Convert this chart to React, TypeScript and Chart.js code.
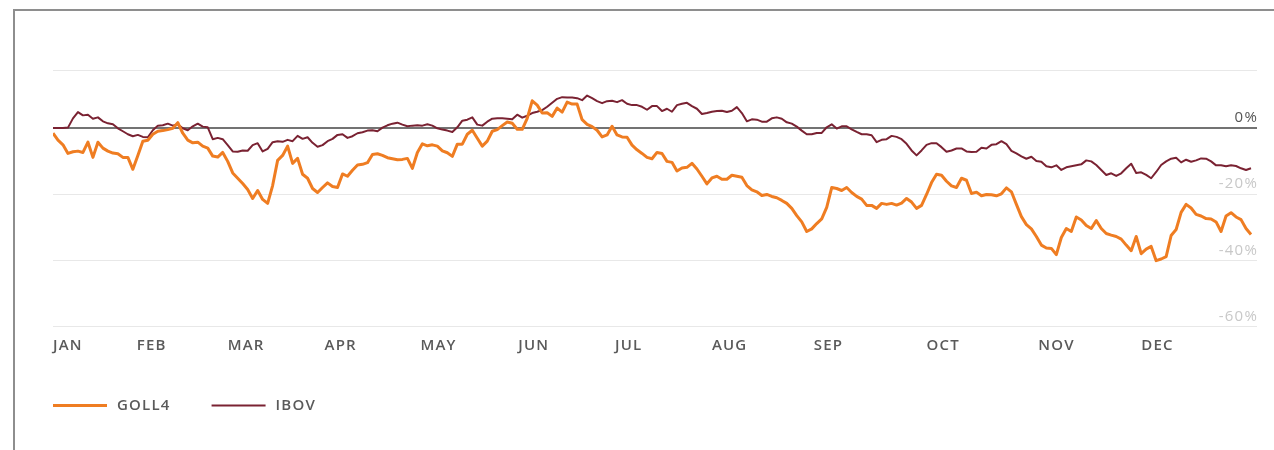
import React, { useEffect, useRef } from 'react';
import { Chart, registerables } from 'chart.js';

Chart.register(...registerables);

const monthLabels = ['JAN', 'FEB', 'MAR', 'APR', 'MAY', 'JUN', 'JUL', 'AUG', 'SEP', 'OCT', 'NOV', 'DEC'];
const monthStarts = [0, 16.8, 35, 54.4, 73.6, 93.2, 112.6, 132, 152.4, 175, 197.4, 218];
const yTickValues = [17.3, 0, -20, -40, -60];
const seriesLabels = ['GOLL4', 'IBOV'];

const goll4 = [
  -1.6, -3.7, -5.1, -7.7, -7.2, -7.0, -7.4, -4.3, -8.9, -4.3,
  -6.1, -7.0, -7.6, -7.8, -8.9, -8.9, -12.5, -8.3, -4.0, -3.7,
  -1.9, -1.0, -0.8, -0.5, -0.1, 1.6, -1.6, -3.7, -4.5, -4.3,
  -5.5, -6.1, -8.5, -8.8, -7.4, -10.1, -13.6, -15.2, -16.8, -18.6,
  -21.3, -18.9, -21.6, -22.8, -17.4, -9.8, -8.3, -5.5, -10.7, -9.2,
  -14.0, -15.2, -18.3, -19.5, -18.0, -16.6, -17.7, -18.0, -13.9, -14.6,
  -12.8, -11.2, -11.0, -10.5, -8.0, -7.8, -8.3, -9.0, -9.3, -9.6,
  -9.5, -9.2, -12.2, -7.4, -4.8, -5.4, -5.1, -5.5, -6.9, -7.5,
  -8.6, -4.9, -4.9, -1.9, -0.7, -3.1, -5.5, -4.0, -1.0, -0.5,
  0.7, 1.8, 1.4, -0.4, -0.4, 2.9, 8.2, 6.9, 4.5, 4.6,
  3.5, 6.0, 4.8, 7.8, 7.2, 7.2, 2.5, 1.1, 0.4, -0.7,
  -2.7, -2.1, 0.5, -2.1, -2.7, -2.8, -5.2, -6.6, -7.7, -8.9,
  -9.3, -7.4, -7.7, -10.1, -10.4, -13.0, -12.1, -11.9, -10.7, -12.4,
  -14.6, -16.9, -15.1, -14.6, -15.5, -15.5, -14.3, -14.6, -14.9, -17.4,
  -18.7, -19.3, -20.4, -20.1, -20.7, -21.1, -21.9, -22.8, -24.3, -26.5,
  -28.4, -31.3, -30.5, -28.9, -27.5, -24.0, -18.0, -18.3, -18.9, -18.0,
  -19.5, -20.7, -21.5, -23.4, -23.4, -24.3, -22.8, -23.1, -22.8, -23.3,
  -22.7, -21.3, -22.4, -24.3, -23.4, -20.1, -16.5, -14.0, -14.3, -16.1,
  -17.5, -18.0, -15.2, -15.8, -19.8, -19.4, -20.5, -20.1, -20.2, -20.5,
  -19.9, -18.1, -19.3, -23.1, -26.8, -29.2, -30.5, -32.8, -35.4, -36.3,
  -36.4, -38.3, -33.1, -30.4, -31.3, -26.9, -27.8, -29.5, -30.4, -28.0,
  -30.4, -31.9, -32.4, -32.8, -33.6, -35.4, -37.1, -32.8, -38.0, -36.6,
  -35.8, -40.1, -39.6, -38.9, -32.5, -30.7, -25.5, -23.1, -24.2, -26.1,
  -26.6, -27.4, -27.5, -28.4, -31.3, -26.6, -25.6, -26.9, -27.7, -30.4,
  -32.2,
];

const ibov = [
  0, 0, 0, 0.1, 2.9, 4.8, 3.8, 4.0, 2.8, 3.2,
  2.0, 1.4, 1.1, -0.1, -1.0, -1.9, -2.5, -2.1, -2.7, -2.8,
  -0.7, 0.7, 0.8, 1.3, 0.7, 1.1, -0.1, -0.7, 0.5, 1.3,
  0.4, 0.2, -3.4, -3.0, -3.4, -5.2, -7.1, -7.2, -6.8, -6.9,
  -5.2, -4.6, -7.1, -6.3, -4.3, -4.0, -4.2, -3.6, -4.0, -2.4,
  -3.3, -2.8, -4.5, -5.7, -5.2, -4.0, -3.3, -2.1, -1.9, -3.0,
  -2.5, -1.6, -1.3, -0.8, -0.7, -1.0, 0.1, 0.8, 1.3, 1.6,
  1.0, 0.5, 0.7, 0.8, 0.7, 1.1, 0.7, -0.1, -0.5, -0.8,
  -1.2, 0.2, 2.2, 2.5, 3.2, 1.0, 0.7, 1.9, 2.8, 2.9,
  2.9, 2.8, 2.6, 4.0, 3.1, 3.7, 4.5, 4.9, 5.4, 6.4,
  7.6, 8.8, 9.3, 9.2, 9.2, 9.0, 8.4, 9.8, 9.0, 8.1,
  7.5, 8.1, 8.2, 7.8, 8.4, 7.3, 6.9, 6.9, 6.4, 5.5,
  6.6, 6.6, 5.1, 5.8, 4.9, 6.9, 7.3, 7.6, 6.6, 5.8,
  4.2, 4.5, 4.9, 5.1, 5.2, 4.8, 5.2, 6.3, 4.5, 2.0,
  2.6, 2.5, 1.9, 1.9, 2.9, 3.2, 2.8, 1.7, 1.3, 0.4,
  -0.8, -1.9, -1.9, -1.5, -1.5, 0.2, 1.1, -0.2, 0.5, 0.5,
  -0.4, -1.2, -1.9, -1.9, -2.2, -4.3, -3.6, -3.4, -2.4, -2.7,
  -3.4, -4.8, -6.8, -8.3, -6.8, -5.1, -4.6, -4.6, -5.8, -7.2,
  -6.8, -6.2, -6.2, -7.1, -7.3, -7.2, -6.0, -6.2, -5.1, -4.9,
  -4.0, -4.9, -6.9, -7.7, -8.6, -9.3, -8.7, -10.0, -10.2, -11.6,
  -11.9, -11.3, -12.7, -11.9, -11.6, -11.3, -11.0, -9.8, -10.1, -11.2,
  -12.7, -14.2, -13.7, -14.5, -13.7, -12.2, -10.8, -13.6, -13.4, -14.2,
  -15.2, -13.3, -11.2, -10.1, -9.3, -9.0, -10.4, -9.6, -10.2, -9.8,
  -9.2, -9.3, -10.1, -11.3, -11.3, -11.6, -11.3, -11.5, -12.2, -12.7,
  -12.2,
];

const GOLL_COLOR = '#EF7D22';
const IBOV_COLOR = '#7A2232';
const FONT = "'Open Sans', 'Liberation Sans', sans-serif";

const legendPlugin = {
  id: 'bottomLegend',
  beforeDraw(chart: any) {
    chart.ctx.letterSpacing = '1.2px';
  },
  afterDraw(chart: any) {
    const { ctx, chartArea } = chart;
    const y = chartArea.bottom + 79;
    let x = chartArea.left;
    ctx.save();
    ctx.font = `600 15px ${FONT}`;
    ctx.textBaseline = 'middle';
    ctx.textAlign = 'left';
    chart.data.datasets.forEach((ds: any) => {
      ctx.strokeStyle = ds.borderColor;
      ctx.lineWidth = ds.borderWidth;
      ctx.beginPath();
      ctx.moveTo(x, y);
      ctx.lineTo(x + 54, y);
      ctx.stroke();
      ctx.fillStyle = '#5a5a5a';
      ctx.fillText(ds.label, x + 64, y);
      x += 64 + ctx.measureText(ds.label).width + 41;
    });
    ctx.restore();
    ctx.letterSpacing = '0px';
  },
};

export default function App() {
  const ref = useRef<HTMLCanvasElement>(null);

  useEffect(() => {
    const canvas = ref.current;
    if (!canvas) return;
    const chart = new Chart(canvas, {
      type: 'line',
      data: {
        datasets: [
          {
            label: seriesLabels[0],
            data: goll4.map((v, i) => ({ x: i, y: v })),
            borderColor: GOLL_COLOR,
            borderWidth: 3,
            pointRadius: 0,
            tension: 0,
            borderJoinStyle: 'round',
          },
          {
            label: seriesLabels[1],
            data: ibov.map((v, i) => ({ x: i, y: v })),
            borderColor: IBOV_COLOR,
            borderWidth: 2,
            pointRadius: 0,
            tension: 0,
            borderJoinStyle: 'round',
          },
        ],
      },
      options: {
        responsive: false,
        animation: false,
        layout: { padding: { left: 53, right: 15, top: 70.7, bottom: 85.5 } },
        plugins: { legend: { display: false }, tooltip: { enabled: false } },
        scales: {
          x: {
            type: 'linear',
            min: 0,
            max: 241.2,
            grid: { display: false, drawTicks: false },
            border: { display: false },
            afterBuildTicks: (s: any) => {
              s.ticks = monthStarts.map((v) => ({ value: v }));
            },
            ticks: {
              autoSkip: false,
              maxRotation: 0,
              align: 'start',
              padding: 10,
              color: '#5a5a5a',
              font: { family: FONT, size: 15, weight: '600' },
              callback: (_v: any, i: number) => monthLabels[i],
            },
          },
          y: {
            position: 'right',
            min: -60,
            max: 17.3,
            afterBuildTicks: (s: any) => {
              s.ticks = yTickValues.map((v) => ({ value: v }));
            },
            grid: {
              drawTicks: false,
              color: (c: any) => (c.tick && c.tick.value === 0 ? '#737373' : '#e8e8e8'),
              lineWidth: (c: any) => (c.tick && c.tick.value === 0 ? 2 : 1),
            },
            border: { display: false },
            ticks: {
              mirror: true,
              padding: 1,
              labelOffset: -10,
              color: (c: any) => (c.tick && c.tick.value === 0 ? '#555555' : '#c8c8c8'),
              font: { family: FONT, size: 15 },
              callback: (v: any) => (v === 17.3 ? '' : `${v}%`),
            },
          },
        },
      },
      plugins: [legendPlugin],
    });
    return () => chart.destroy();
  }, []);

  return (
    <div style={{ position: 'absolute', left: 0, top: 0, width: 1274, height: 450, background: '#fff', overflow: 'hidden' }}>
      <div
        style={{
          position: 'absolute',
          left: 13,
          top: 9,
          right: -4,
          bottom: -4,
          borderTop: '2px solid #8e8e8e',
          borderLeft: '2px solid #8e8e8e',
        }}
      />
      <canvas ref={ref} width={1274} height={450} style={{ position: 'absolute', left: 0, top: 0 }} />
    </div>
  );
}
